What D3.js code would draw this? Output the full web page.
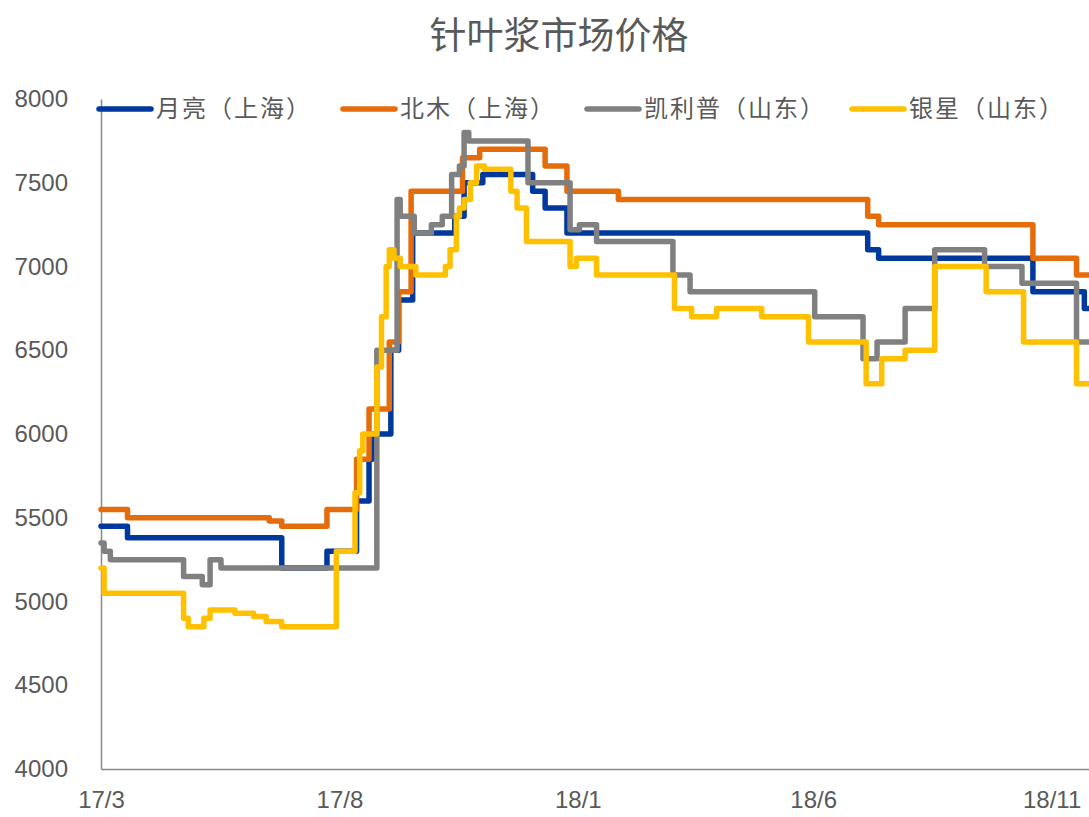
<!DOCTYPE html>
<html><head><meta charset="utf-8">
<script src="https://cdn.jsdelivr.net/npm/d3@7"></script>
<style>body{margin:0;background:#fff}svg{display:block}</style>
</head><body>
<svg id="c" width="1089" height="817"></svg>
<script>
const title = "针叶浆市场价格";
const seriesNames = ["月亮（上海）", "北木（上海）", "凯利普（山东）", "银星（山东）"];
const seriesColors = ["#00399E", "#E46C0A", "#808080", "#FFC000"];
const yTicks = [4000, 4500, 5000, 5500, 6000, 6500, 7000, 7500, 8000];
const xTickDates = ["2017-03-01", "2017-08-01", "2018-01-01", "2018-06-01", "2018-11-01"];
const xTickLabels = ["17/3", "17/8", "18/1", "18/6", "18/11"];

// change points: value holds from the date until the next change
const yueliangDates = ["2017-03-01","2017-03-18","2017-06-25","2017-07-24","2017-08-12","2017-08-20","2017-08-22","2017-09-03","2017-09-08","2017-09-17","2017-10-14","2017-10-20","2017-11-01","2017-12-03","2017-12-11","2017-12-25","2018-07-06","2018-07-13","2018-10-20","2018-11-22"];
const yueliangValues = [5450,5380,5200,5300,5600,5850,6000,6500,6800,7200,7300,7500,7550,7450,7350,7200,7100,7050,6850,6750];

const beimuDates = ["2017-03-01","2017-03-18","2017-06-17","2017-06-25","2017-07-24","2017-08-12","2017-08-20","2017-09-02","2017-09-08","2017-09-16","2017-10-19","2017-10-30","2017-12-11","2017-12-25","2018-01-27","2018-07-06","2018-07-13","2018-10-20","2018-11-17"];
const beimuValues = [5550,5500,5480,5450,5550,5850,6150,6550,6850,7450,7650,7700,7600,7450,7400,7300,7250,7050,6950];

const kailipuDates = ["2017-03-01","2017-03-03","2017-03-07","2017-04-23","2017-05-05","2017-05-10","2017-05-17","2017-08-25","2017-09-07","2017-09-09","2017-09-18","2017-09-29","2017-10-06","2017-10-12","2017-10-17","2017-10-20","2017-10-23","2017-11-30","2017-12-27","2018-01-02","2018-01-13","2018-03-03","2018-03-14","2018-06-02","2018-07-03","2018-07-12","2018-07-30","2018-08-18","2018-09-19","2018-10-13","2018-11-17"];
const kailipuValues = [5350,5300,5250,5150,5100,5250,5200,6500,7400,7300,7200,7250,7300,7550,7600,7800,7750,7500,7220,7250,7150,6950,6850,6700,6450,6550,6750,7100,7000,6900,6550];

const yinxingDates = ["2017-03-01","2017-03-03","2017-04-23","2017-04-26","2017-05-06","2017-05-10","2017-05-26","2017-06-07","2017-06-15","2017-06-25","2017-07-30","2017-08-11","2017-08-14","2017-08-16","2017-08-25","2017-08-28","2017-08-31","2017-09-02","2017-09-05","2017-09-09","2017-09-19","2017-10-08","2017-10-11","2017-10-15","2017-10-17","2017-10-20","2017-10-24","2017-10-28","2017-11-02","2017-11-19","2017-11-23","2017-11-29","2017-12-27","2017-12-31","2018-01-13","2018-03-04","2018-03-15","2018-03-31","2018-04-29","2018-05-29","2018-07-05","2018-07-15","2018-07-30","2018-08-18","2018-09-20","2018-10-14","2018-11-17"];
const yinxingValues = [5200,5050,4900,4850,4900,4950,4930,4910,4880,4850,5300,5650,5900,6000,6400,6700,7000,7100,7050,7000,6950,7000,7100,7300,7350,7400,7500,7600,7580,7450,7350,7150,7000,7050,6950,6750,6700,6750,6700,6550,6300,6450,6500,7000,6850,6550,6300];

const xDomain = ["2017-03-01", "2018-11-25"];
const yDomain = [4000, 8000];

const parse = d3.timeParse("%Y-%m-%d");
const svg = d3.select("#c");
const font = "'Noto Sans CJK SC','Noto Sans',sans-serif";
const textColor = "#595959";

const x = d3.scaleTime().domain(xDomain.map(parse)).range([101, 1089]);
const y = d3.scaleLinear().domain(yDomain).range([769, 99]);

// title
svg.append("text").attr("x", 559).attr("y", 49).attr("text-anchor", "middle")
  .attr("font-family", font).attr("font-size", 37).attr("fill", textColor).text(title);

// y axis
const yAxis = svg.append("g").attr("transform", "translate(101,0)")
  .call(d3.axisLeft(y).tickValues(yTicks).tickSize(0).tickPadding(33).tickFormat(d3.format("d")));
yAxis.select(".domain").attr("stroke", "#898989").attr("stroke-width", 1.5);
yAxis.selectAll("text").attr("font-family", "'Liberation Sans','Noto Sans',sans-serif").attr("font-size", 24).attr("fill", textColor);

// x axis
const xAxis = svg.append("g").attr("transform", "translate(0,769)")
  .call(d3.axisBottom(x).tickValues(xTickDates.map(parse)).tickSize(0).tickPadding(22)
    .tickFormat((d, i) => xTickLabels[i]));
xAxis.select(".domain").attr("stroke", "#898989").attr("stroke-width", 1.5);
xAxis.selectAll("text").attr("font-family", "'Liberation Sans','Noto Sans',sans-serif").attr("font-size", 24).attr("fill", textColor);

const allSeries = [
  [yueliangDates, yueliangValues],
  [beimuDates, beimuValues],
  [kailipuDates, kailipuValues],
  [yinxingDates, yinxingValues]
];

const line = d3.line().x(d => x(d[0])).y(d => y(d[1])).curve(d3.curveStepAfter);

allSeries.forEach(([dates, vals], i) => {
  const pts = dates.map((d, j) => [parse(d), vals[j]]);
  pts.push([parse(xDomain[1]), vals[vals.length - 1]]);
  svg.append("path").datum(pts).attr("d", line).attr("fill", "none")
    .attr("stroke", seriesColors[i]).attr("stroke-width", 5.5)
    .attr("stroke-linejoin", "round").attr("stroke-linecap", "round");
});

// legend
const legendX = [97, 341, 585, 850];
seriesNames.forEach((name, i) => {
  const g = svg.append("g").attr("transform", `translate(${legendX[i]},109)`);
  g.append("line").attr("x1", 2).attr("x2", 54).attr("y1", 0).attr("y2", 0)
    .attr("stroke", seriesColors[i]).attr("stroke-width", 5.5).attr("stroke-linecap", "round");
  g.append("text").attr("x", 59).attr("y", 0).attr("dy", "0.35em")
    .attr("font-family", font).attr("font-size", 24).attr("letter-spacing", 2)
    .attr("fill", textColor).text(name);
});
</script>
</body></html>
